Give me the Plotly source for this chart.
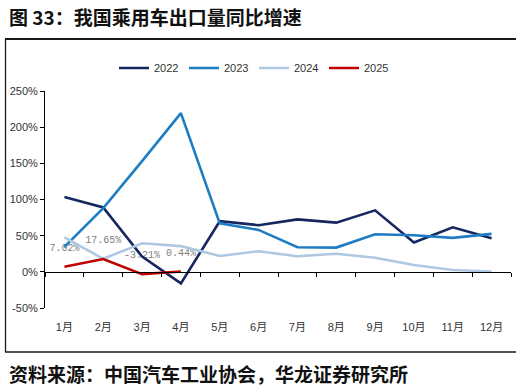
import plotly.graph_objects as go

months = ["1月", "2月", "3月", "4月", "5月", "6月", "7月", "8月", "9月", "10月", "11月", "12月"]
y2022 = [103.5, 89, 21, -16, 70, 64.5, 72.5, 68, 85, 40.5, 61.5, 46.5]
y2023 = [34.5, 88, 153, 219.5, 67, 58, 34, 33.5, 52, 50.5, 47, 52.5]
y2024 = [47.5, 18, 39.5, 35.5, 22, 28.5, 21.5, 25, 19.5, 9.5, 2.5, 0.5]
y2025 = [7.02, 17.65, -3.21, 0.44]
labels2025 = ["7.02%", "17.65%", "-3.21%", "0.44%"]
ytickvals = [-50, 0, 50, 100, 150, 200, 250]
yticktext = ["-50%", "0%", "50%", "100%", "150%", "200%", "250%"]

W, H = 521, 392
ML, MR, MT, MB = 45, 10, 91, 84
PW, PH = W - ML - MR, H - MT - MB


def px(x):
    return (x - ML) / PW


def py(y):
    return (H - MB - y) / PH


TICKFONT = dict(family="Liberation Sans, Arial, Noto Sans CJK SC", size=11, color="#333333")

fig = go.Figure()

# data labels for 2025 (drawn first so the lines pass over them, as in the original)
fig.add_trace(go.Scatter(
    x=months[:len(y2025)], y=y2025, mode="markers+text", text=labels2025,
    textposition="top center", showlegend=False, hoverinfo="skip",
    marker=dict(size=20, opacity=0),
    textfont=dict(family="Liberation Mono, DejaVu Sans Mono", size=10, color="#7F7F7F")))

series = [("2022", y2022, "#15275E"), ("2023", y2023, "#1E7CC2"),
          ("2024", y2024, "#AFC8E2"), ("2025", y2025, "#C00000")]
for name, vals, col in series:
    fig.add_trace(go.Scatter(
        x=months[:len(vals)], y=vals, name=name, mode="lines",
        line=dict(color=col, width=2.6), xaxis="x", yaxis="y"))

# invisible trace for the zero-line axis
fig.add_trace(go.Scatter(x=months, y=[0] * 12, mode="lines", line=dict(width=0),
                         xaxis="x2", yaxis="y", showlegend=False, hoverinfo="skip"))

fig.update_layout(
    width=W, height=H,
    margin=dict(l=ML, r=MR, t=MT, b=MB),
    plot_bgcolor="white", paper_bgcolor="white",
    showlegend=True,
    legend=dict(orientation="h", x=px(114), xanchor="left", y=py(68), yanchor="middle",
                font=dict(family="Liberation Sans, Arial", size=11, color="#333333"),
                entrywidth=25, entrywidthmode="pixels", itemwidth=30,
                traceorder="normal", bgcolor="rgba(0,0,0,0)"),
    xaxis=dict(type="category", categoryorder="array", categoryarray=months,
               range=[-0.5, 11.5], showline=False, showgrid=False, zeroline=False,
               ticks="outside", ticklen=9, tickcolor="rgba(0,0,0,0)",
               tickfont=TICKFONT),
    xaxis2=dict(type="category", categoryorder="array", categoryarray=months,
                overlaying="x", anchor="free", position=py(271.8), side="bottom",
                range=[-0.5, 11.5], showline=True, linecolor="#000000", linewidth=1,
                ticks="outside", ticklen=4, tickcolor="#000000", tickson="boundaries",
                showticklabels=False, showgrid=False, zeroline=False),
    yaxis=dict(range=[-50, 250], tickmode="array", tickvals=ytickvals, ticktext=yticktext,
               showline=True, linecolor="#000000", linewidth=1,
               ticks="outside", ticklen=4, tickcolor="#000000",
               showgrid=False, zeroline=False, tickfont=TICKFONT),
    shapes=[
        dict(type="line", xref="paper", yref="paper", x0=px(5), x1=px(516), y0=py(39), y1=py(39),
             line=dict(color="#1A1A1A", width=2)),
        dict(type="line", xref="paper", yref="paper", x0=px(5.5), x1=px(5.5), y0=py(39), y1=py(352),
             line=dict(color="#1A1A1A", width=1.3)),
        dict(type="line", xref="paper", yref="paper", x0=px(5), x1=px(516), y0=py(352), y1=py(352),
             line=dict(color="#1A1A1A", width=1.3)),
    ],
    annotations=[
        dict(text="<b>图 33：我国乘用车出口量同比增速</b>", xref="paper", yref="paper",
             x=px(7), y=py(16), xanchor="left", yanchor="middle", showarrow=False,
             font=dict(family="Noto Sans CJK SC", size=19, color="#111111")),
        dict(text="<b>资料来源：中国汽车工业协会，华龙证券研究所</b>", xref="paper", yref="paper",
             x=px(7), y=py(373), xanchor="left", yanchor="middle", showarrow=False,
             font=dict(family="Noto Sans CJK SC", size=19, color="#111111")),
    ],
)

fig.write_html("out.html")
